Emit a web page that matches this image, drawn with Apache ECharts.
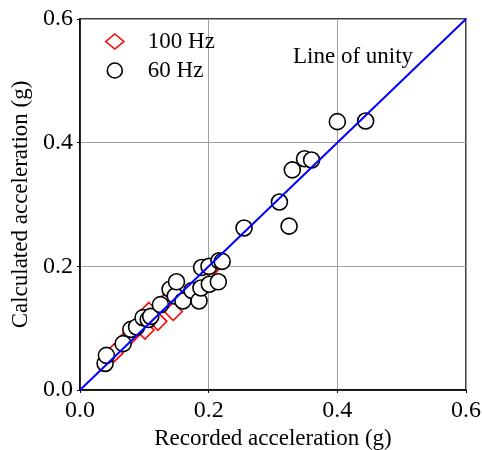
<!DOCTYPE html>
<html>
<head>
<meta charset="utf-8">
<script src="https://cdn.jsdelivr.net/npm/echarts@6/dist/echarts.min.js"></script>
<style>
  html, body { margin: 0; padding: 0; background: #fff; }
  #chart { width: 482px; height: 450px; }
</style>
</head>
<body>
<div id="chart"></div>
<script>
// recorded vs calculated peak acceleration (g)
const hz100 = [
  [0.053, 0.060], [0.078, 0.088], [0.101, 0.097], [0.107, 0.127],
  [0.121, 0.111], [0.135, 0.145], [0.145, 0.127], [0.203, 0.196]
];
const hz60 = [
  [0.039, 0.043], [0.041, 0.056], [0.067, 0.075], [0.079, 0.098],
  [0.088, 0.102], [0.098, 0.117], [0.106, 0.114], [0.110, 0.119],
  [0.125, 0.138], [0.140, 0.163], [0.148, 0.152], [0.150, 0.175],
  [0.160, 0.144], [0.174, 0.161], [0.185, 0.144], [0.188, 0.165],
  [0.189, 0.198], [0.201, 0.171], [0.2005, 0.200], [0.215, 0.175],
  [0.216, 0.209], [0.221, 0.208], [0.255, 0.262], [0.310, 0.304],
  [0.325, 0.265], [0.330, 0.356], [0.349, 0.374], [0.360, 0.372],
  [0.400, 0.434], [0.444, 0.435]
];
const unity = [[0, 0], [0.6, 0.6]];
const axisMax = 0.6;
const tickStep = 0.2;

const font = 'Liberation Serif';
const chart = echarts.init(document.getElementById('chart'));

const axisCommon = {
  type: 'value',
  min: 0,
  max: axisMax,
  interval: tickStep,
  nameLocation: 'middle',
  nameTextStyle: { fontFamily: font, fontSize: 23, color: '#000' },
  axisLine: { show: true, onZero: false, lineStyle: { color: '#000', width: 1.5 } },
  axisTick: { show: true, length: 3, lineStyle: { color: '#000' } },
  axisLabel: {
    fontFamily: font, fontSize: 24, color: '#000',
    formatter: (v) => v.toFixed(1)
  },
  splitLine: { show: true, lineStyle: { color: '#a0a0a0', width: 1 } }
};

const diamondStyle = { color: '#fff', borderColor: '#ff0000', borderWidth: 1.6, opacity: 1 };
const circleStyle = { color: '#fff', borderColor: '#000', borderWidth: 1.6, opacity: 1 };

chart.setOption({
  animation: false,
  grid: {
    left: 80, top: 19, right: 16, bottom: 60,
    outerBoundsMode: 'none', containLabel: false,
    show: true, borderColor: '#000', borderWidth: 1.5
  },
  xAxis: Object.assign({}, axisCommon, {
    name: 'Recorded acceleration (g)',
    nameGap: 37,
    axisLabel: Object.assign({}, axisCommon.axisLabel, { margin: 9 })
  }),
  yAxis: Object.assign({}, axisCommon, {
    name: 'Calculated acceleration (g)',
    nameGap: 47,
    axisLabel: Object.assign({}, axisCommon.axisLabel, { margin: 7 })
  }),
  legend: {
    orient: 'vertical',
    left: 100,
    top: 25,
    itemWidth: 18,
    itemHeight: 15,
    itemGap: 6,
    textStyle: { fontFamily: font, fontSize: 23, color: '#000', padding: [0, 0, 0, 19] },
    data: [
      { name: '100 Hz', itemStyle: diamondStyle },
      { name: '60 Hz', itemStyle: circleStyle }
    ]
  },
  graphic: [{
    type: 'text',
    left: 293,
    top: 45,
    style: { text: 'Line of unity', font: '23px "Liberation Serif"', fill: '#000' }
  }],
  series: [
    {
      name: '100 Hz',
      type: 'scatter',
      data: hz100,
      symbol: 'diamond',
      symbolSize: 18,
      itemStyle: diamondStyle,
      z: 2
    },
    {
      name: '60 Hz',
      type: 'scatter',
      data: hz60,
      symbol: 'circle',
      symbolSize: 16,
      itemStyle: circleStyle,
      z: 3
    },
    {
      name: 'unity',
      type: 'line',
      data: unity,
      symbol: 'none',
      lineStyle: { color: '#0000ff', width: 2 },
      z: 4
    }
  ]
});
</script>
</body>
</html>
